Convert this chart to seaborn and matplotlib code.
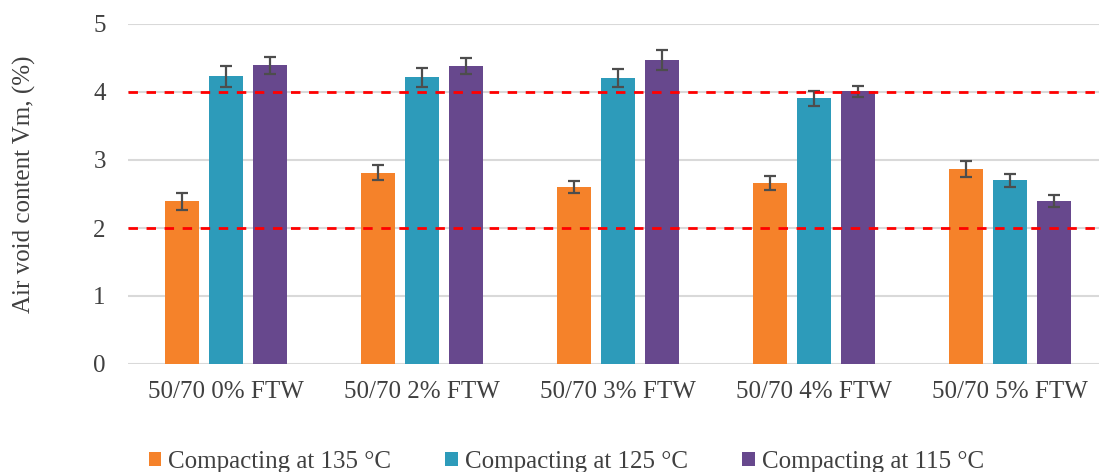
import matplotlib
matplotlib.use("Agg")
import matplotlib.pyplot as plt
import seaborn as sns
import pandas as pd
import numpy as np
from matplotlib.patches import Patch

categories = ["50/70 0% FTW", "50/70 2% FTW", "50/70 3% FTW", "50/70 4% FTW", "50/70 5% FTW"]
series = ["Compacting at 135 °C", "Compacting at 125 °C", "Compacting at 115 °C"]
vals_135 = [2.39, 2.81, 2.60, 2.66, 2.87]
vals_125 = [4.23, 4.22, 4.21, 3.91, 2.70]
vals_115 = [4.39, 4.38, 4.47, 4.01, 2.40]
err_135 = [0.12, 0.11, 0.09, 0.10, 0.12]
err_125 = [0.15, 0.14, 0.13, 0.11, 0.10]
err_115 = [0.13, 0.12, 0.15, 0.08, 0.09]
limits = [2, 4]
colors = ["#F5822A", "#2D9BBA", "#67488D"]

rows = []
for s, v, e in zip(series, [vals_135, vals_125, vals_115], [err_135, err_125, err_115]):
    for c, vi, ei in zip(categories, v, e):
        rows.append({"cat": c, "series": s, "val": vi, "err": ei})
df = pd.DataFrame(rows)

sns.set_style("white")
plt.rcParams["font.family"] = ["Liberation Serif", "DejaVu Serif"]

fig = plt.figure(figsize=(10.99, 4.72), dpi=100)
ax = fig.add_axes([128/1099, 1-364/472, 980/1099, 340/472])

sns.barplot(data=df, x="cat", y="val", hue="series", order=categories, hue_order=series,
            palette=colors, saturation=1, width=0.67, gap=0.22, errorbar=None, ax=ax,
            legend=False, zorder=3, linewidth=0)

bars = [p for p in ax.patches]
for i, s in enumerate(series):
    sub = df[df.series == s]
    for j, c in enumerate(categories):
        p = bars[i*len(categories) + j]
        xc = p.get_x() + p.get_width()/2
        ax.errorbar(xc, p.get_height(), yerr=sub.err.values[j], color="#4D4D4D",
                    capsize=4, elinewidth=1.6, capthick=1.6, zorder=4)

for y in range(0, 6):
    ax.axhline(y, color="#D9D9D9", lw=1.5, zorder=1)
for lim in limits:
    ax.axhline(lim, color="#FF0000", lw=2.0, ls=(0, (3.4, 3.1)), zorder=5)

ax.set_ylim(0, 5)
ax.set_xlim(-0.5, 4.5)
ax.set_yticks(range(0, 6))
ax.set_xlabel("")
ax.set_ylabel("Air void content Vm, (%)", fontsize=18, color="#404040")
ax.yaxis.set_label_coords(-0.094, 0.53)
ax.tick_params(axis="both", labelsize=18, colors="#404040", length=0)
ax.tick_params(axis="x", pad=12)
ax.tick_params(axis="y", pad=16)
for sp in ax.spines.values():
    sp.set_visible(False)

handles = [Patch(facecolor=c, edgecolor="none") for c in colors]
fig.legend(handles, series, loc="center left", bbox_to_anchor=(126/1099, 1-462/472),
           ncol=3, frameon=False, fontsize=18, handlelength=0.5, handleheight=0.5,
           handletextpad=0.3, columnspacing=2.15, labelcolor="#404040")

fig.savefig("out.png", dpi=100)
